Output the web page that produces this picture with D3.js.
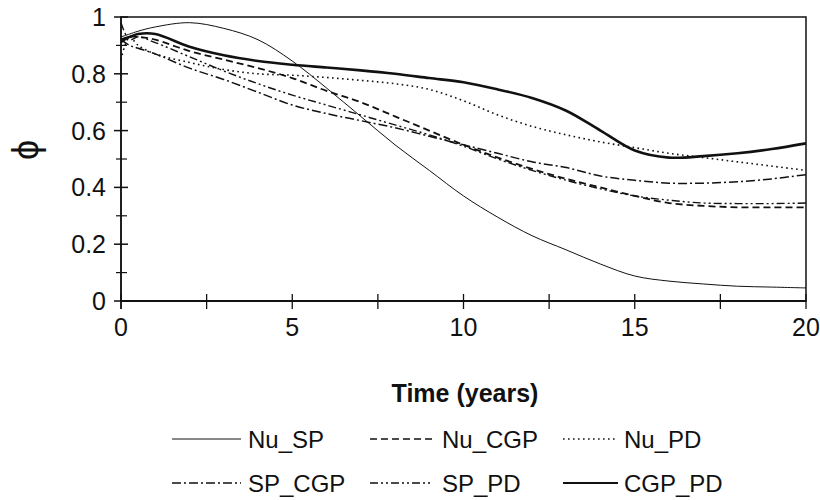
<!DOCTYPE html>
<html>
<head>
<meta charset="utf-8">
<script src="https://cdn.jsdelivr.net/npm/d3@7"></script>
<style>
  html, body { margin: 0; padding: 0; background: #fff; }
  svg { display: block; }
  text { font-family: "Liberation Sans", Arial, sans-serif; fill: #111; }
</style>
</head>
<body>
<svg id="chart" width="820" height="500"></svg>
<script>
// Time points (years)
const years = [0, 0.25, 0.5, 1, 2, 3, 4, 5, 6, 7, 8, 9, 10, 11, 12, 13, 14, 15, 16, 17, 18, 19, 20];

// phi values per method pair
const nuSP  = [0.93, 0.94, 0.95, 0.965, 0.98, 0.96, 0.92, 0.845, 0.75, 0.65, 0.55, 0.46, 0.37, 0.295, 0.23, 0.18, 0.13, 0.088, 0.07, 0.06, 0.052, 0.049, 0.046];
const nuCGP = [0.91, 0.93, 0.93, 0.92, 0.88, 0.85, 0.82, 0.785, 0.74, 0.70, 0.65, 0.60, 0.55, 0.505, 0.465, 0.43, 0.40, 0.37, 0.345, 0.335, 0.33, 0.33, 0.33];
const nuPD  = [0.85, 0.93, 0.90, 0.87, 0.84, 0.815, 0.80, 0.795, 0.787, 0.777, 0.765, 0.745, 0.705, 0.655, 0.615, 0.585, 0.56, 0.54, 0.52, 0.505, 0.49, 0.475, 0.46];
const spCGP = [0.92, 0.90, 0.89, 0.87, 0.82, 0.78, 0.735, 0.69, 0.66, 0.635, 0.61, 0.58, 0.55, 0.52, 0.49, 0.47, 0.44, 0.425, 0.415, 0.415, 0.42, 0.43, 0.445];
const spPD  = [0.98, 0.92, 0.93, 0.91, 0.86, 0.81, 0.765, 0.725, 0.69, 0.655, 0.62, 0.585, 0.545, 0.50, 0.46, 0.425, 0.395, 0.37, 0.355, 0.345, 0.343, 0.343, 0.345];
const cgpPD = [0.92, 0.93, 0.94, 0.94, 0.895, 0.865, 0.845, 0.832, 0.822, 0.812, 0.80, 0.785, 0.77, 0.745, 0.715, 0.67, 0.60, 0.53, 0.505, 0.51, 0.52, 0.535, 0.555];

const seriesNames = ["Nu_SP", "Nu_CGP", "Nu_PD", "SP_CGP", "SP_PD", "CGP_PD"];
const seriesValues = [nuSP, nuCGP, nuPD, spCGP, spPD, cgpPD];

const xTicks = [0, 5, 10, 15, 20];
const xMinorTicks = [2.5, 7.5, 12.5, 17.5];
const yTicks = [0, 0.2, 0.4, 0.6, 0.8, 1];
const yMinorTicks = [0.1, 0.3, 0.5, 0.7, 0.9];

// line styles per series
const styles = {
  "Nu_SP":  { width: 1.0, dash: null },
  "Nu_CGP": { width: 1.8, dash: "7,4" },
  "Nu_PD":  { width: 1.6, dash: "1.6,3.4" },
  "SP_CGP": { width: 1.5, dash: "9,3,2,3" },
  "SP_PD":  { width: 1.4, dash: "8,3,2,3,2,3" },
  "CGP_PD": { width: 2.6, dash: null }
};

const svg = d3.select("#chart");
const plotLeft = 121, plotRight = 806, plotTop = 17, plotBottom = 301;

const x = d3.scaleLinear().domain([0, 20]).range([plotLeft, plotRight]);
const y = d3.scaleLinear().domain([0, 1]).range([plotBottom, plotTop]);

// frame
svg.append("rect")
  .attr("x", plotLeft).attr("y", plotTop)
  .attr("width", plotRight - plotLeft).attr("height", plotBottom - plotTop)
  .attr("fill", "none").attr("stroke", "#111").attr("stroke-width", 1.5);

// series
const line = d3.line().x((d, i) => x(years[i])).y(d => y(d)).curve(d3.curveCatmullRom.alpha(0.5));
seriesNames.forEach((name, k) => {
  const s = styles[name];
  svg.append("path")
    .datum(seriesValues[k])
    .attr("d", line)
    .attr("fill", "none")
    .attr("stroke", "#111")
    .attr("stroke-width", s.width)
    .attr("stroke-dasharray", s.dash);
});

// x axis: ticks crossing the axis line
const xAxis = svg.append("g").attr("transform", `translate(0,${plotBottom})`);
xAxis.append("line").attr("x1", plotLeft).attr("x2", plotRight).attr("stroke", "#111").attr("stroke-width", 2);
xAxis.selectAll("line.tk").data(xTicks.concat(xMinorTicks)).join("line")
  .attr("class", "tk")
  .attr("x1", d => x(d)).attr("x2", d => x(d))
  .attr("y1", -7).attr("y2", 8)
  .attr("stroke", "#111").attr("stroke-width", 1.3);
xAxis.selectAll("text").data(xTicks).join("text")
  .attr("x", d => x(d)).attr("y", 35)
  .attr("text-anchor", "middle")
  .attr("font-size", 25)
  .text(d => d3.format("d")(d));

// y axis
const yAxis = svg.append("g").attr("transform", `translate(${plotLeft},0)`);
yAxis.append("line").attr("y1", plotTop).attr("y2", plotBottom + 8).attr("stroke", "#111").attr("stroke-width", 1.5);
yAxis.selectAll("line.major").data(yTicks).join("line")
  .attr("class", "major")
  .attr("x1", -7).attr("x2", 7)
  .attr("y1", d => y(d)).attr("y2", d => y(d))
  .attr("stroke", "#111").attr("stroke-width", 1.5);
yAxis.selectAll("line.minor").data(yMinorTicks).join("line")
  .attr("class", "minor")
  .attr("x1", -5).attr("x2", 6)
  .attr("y1", d => y(d)).attr("y2", d => y(d))
  .attr("stroke", "#111").attr("stroke-width", 1.2);
yAxis.selectAll("text").data(yTicks).join("text")
  .attr("x", -15).attr("y", d => y(d))
  .attr("dy", "0.36em")
  .attr("text-anchor", "end")
  .attr("font-size", 25)
  .text(d => d3.format("~g")(d));

// axis titles
svg.append("text")
  .attr("x", 465).attr("y", 402)
  .attr("text-anchor", "middle")
  .attr("font-size", 25)
  .attr("font-weight", "bold")
  .text("Time (years)");

svg.append("text")
  .attr("transform", "translate(38,150) rotate(-90)")
  .attr("text-anchor", "middle")
  .attr("font-size", 36)
  .text("ϕ");

// legend: two rows of three
const legendCols = [{ x1: 172, x2: 241, tx: 248 }, { x1: 370, x2: 432, tx: 442 }, { x1: 563, x2: 618, tx: 624 }];
const legendRows = [439, 483];
const legend = svg.append("g");
seriesNames.forEach((name, k) => {
  const col = legendCols[k % 3], rowY = legendRows[Math.floor(k / 3)];
  const s = styles[name];
  legend.append("line")
    .attr("x1", col.x1).attr("x2", col.x2)
    .attr("y1", rowY).attr("y2", rowY)
    .attr("stroke", "#111")
    .attr("stroke-width", name === "CGP_PD" ? 2 : (name === "Nu_SP" ? 1 : 1.4))
    .attr("stroke-dasharray", s.dash);
  legend.append("text")
    .attr("x", col.tx).attr("y", rowY)
    .attr("dy", "0.36em")
    .attr("font-size", 24)
    .text(name);
});
</script>
</body>
</html>
